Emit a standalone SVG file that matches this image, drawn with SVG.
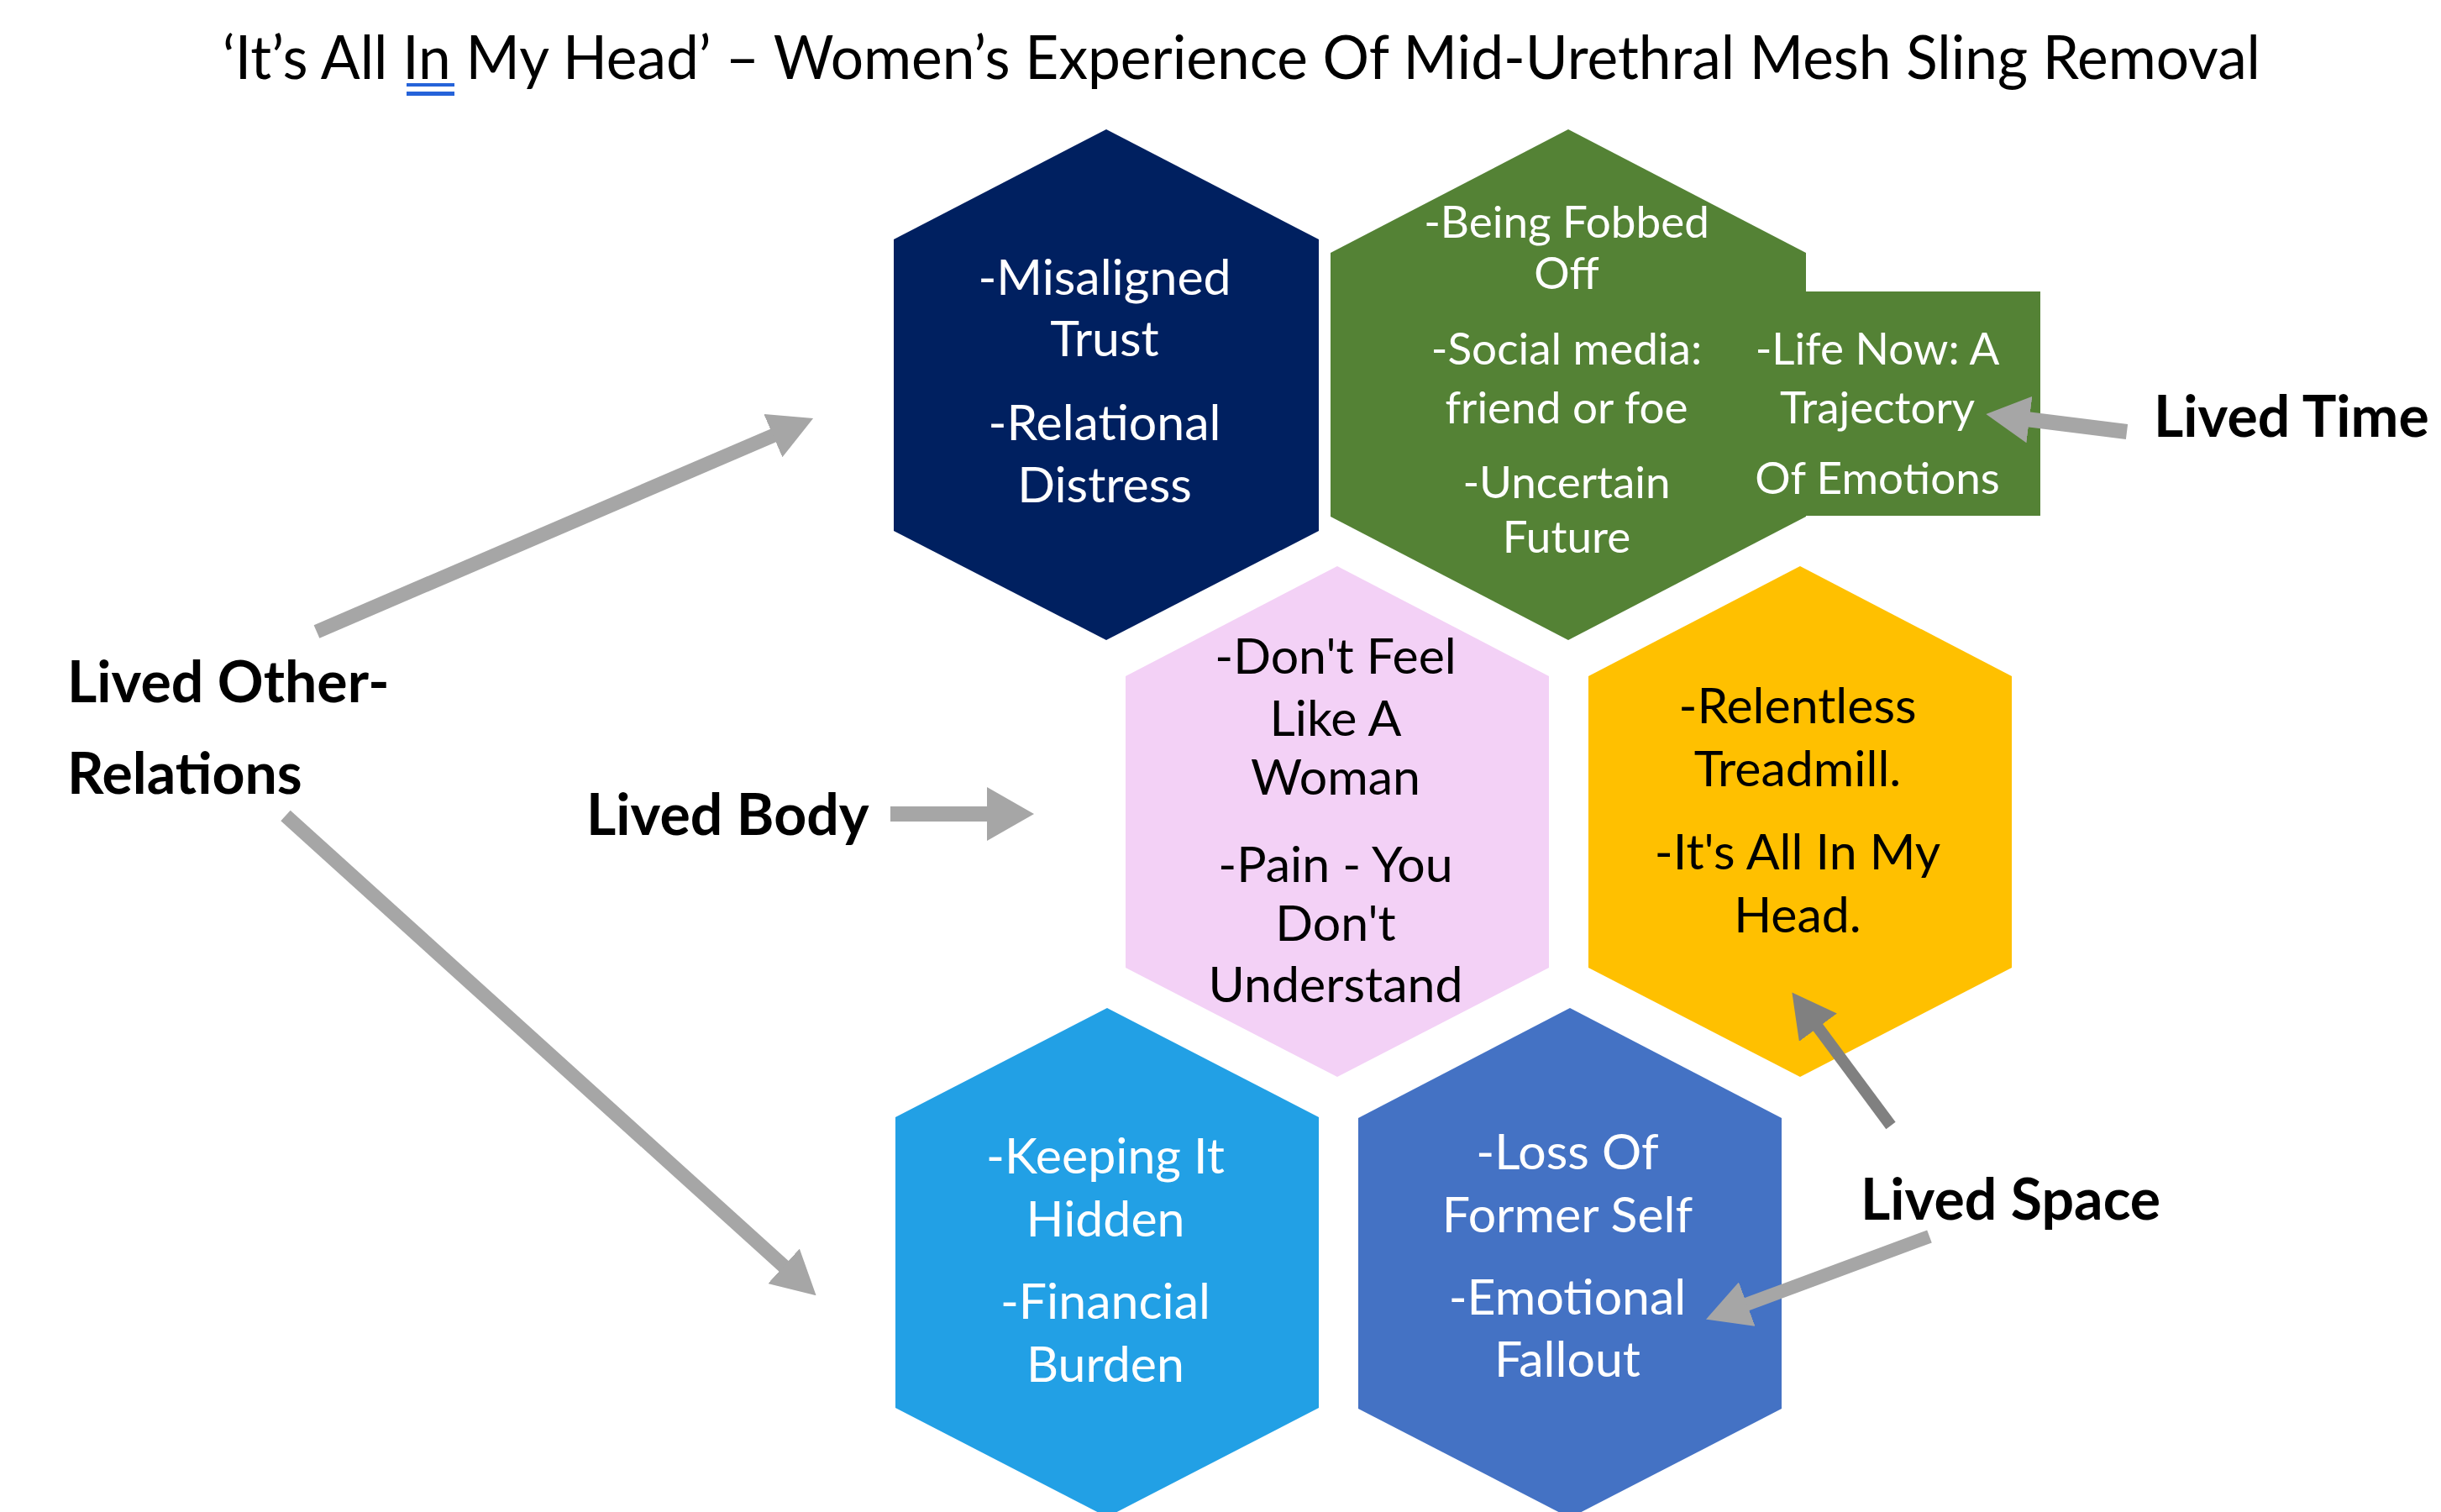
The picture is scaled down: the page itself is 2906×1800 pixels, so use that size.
<svg xmlns="http://www.w3.org/2000/svg" width="2906" height="1800" viewBox="0 0 2906 1800">
<style>
  text { font-family: "Lato", "Liberation Sans", sans-serif; text-anchor: middle; }
  .t60 { font-size: 59px; }
  .t52 { font-size: 53px; }
  .wh { fill: #FFFFFF; }
  .bk { fill: #000000; }
  .lbl { font-weight: bold; font-size: 68px; fill: #000000; text-anchor: start; }
  .title { font-size: 72px; fill: #000000; text-anchor: middle; }
  .arr { stroke: #A6A6A6; fill: none; stroke-linecap: butt; }
  .arrd { stroke: #808080; fill: none; stroke-linecap: butt; }
</style>
<defs>
  <marker id="head" markerUnits="userSpaceOnUse" viewBox="0 0 52 56" refX="4" refY="28" markerWidth="52" markerHeight="56" orient="auto">
    <path d="M0,0 L52,28 L0,56 Z" fill="#A6A6A6"/>
  </marker>
  <marker id="headBig" markerUnits="userSpaceOnUse" viewBox="0 0 56 64" refX="4" refY="32" markerWidth="56" markerHeight="64" orient="auto">
    <path d="M0,0 L56,32 L0,64 Z" fill="#A6A6A6"/>
  </marker>
  <marker id="headDark" markerUnits="userSpaceOnUse" viewBox="0 0 52 56" refX="4" refY="28" markerWidth="52" markerHeight="56" orient="auto">
    <path d="M0,0 L52,28 L0,56 Z" fill="#808080"/>
  </marker>
</defs>
<rect width="2906" height="1800" fill="#FFFFFF"/>

<g id="title">
  <text class="title" x="1478" y="94" textLength="2426" lengthAdjust="spacingAndGlyphs">‘It’s All In My Head’ – Women’s Experience Of Mid-Urethral Mesh Sling Removal</text>
  <rect x="484" y="99" width="57" height="4" fill="#2563D9"/>
  <rect x="484" y="109" width="57" height="5" fill="#2563D9"/>
</g>

<g id="node-navy">
  <polygon points="1317,154 1570,285 1570,632 1317,762 1064,632 1064,285" fill="#002060"/>
  <text class="t60 wh" x="1315" y="351">-Misaligned</text>
  <text class="t60 wh" x="1315" y="424">Trust</text>
  <text class="t60 wh" x="1315" y="524">-Relational</text>
  <text class="t60 wh" x="1315" y="598">Distress</text>
</g>

<g id="node-green">
  <polygon points="1867,154 2150,301 2150,615 1867,762 1584,615 1584,301" fill="#548235"/>
  <rect x="2040" y="347" width="389" height="267" fill="#548235"/>
  <text class="t52 wh" x="1865" y="283">-Being Fobbed</text>
  <text class="t52 wh" x="1865" y="344">Off</text>
  <text class="t52 wh" x="1865" y="434">-Social media:</text>
  <text class="t52 wh" x="1865" y="504">friend or foe</text>
  <text class="t52 wh" x="1865" y="593">-Uncertain</text>
  <text class="t52 wh" x="1865" y="658">Future</text>
  <text class="t52 wh" x="2235" y="434">-Life Now: A</text>
  <text class="t52 wh" x="2235" y="504">Trajectory</text>
  <text class="t52 wh" x="2235" y="588">Of Emotions</text>
</g>

<g id="node-pink">
  <polygon points="1592,674 1844,805 1844,1152 1592,1282 1340,1152 1340,805" fill="#F3D1F6"/>
  <text class="t60 bk" x="1590" y="802">-Don't Feel</text>
  <text class="t60 bk" x="1590" y="876">Like A</text>
  <text class="t60 bk" x="1590" y="946">Woman</text>
  <text class="t60 bk" x="1590" y="1050">-Pain - You</text>
  <text class="t60 bk" x="1590" y="1120">Don't</text>
  <text class="t60 bk" x="1590" y="1193">Understand</text>
</g>

<g id="node-yellow">
  <polygon points="2143,674 2395,805 2395,1152 2143,1282 1891,1152 1891,805" fill="#FFC000"/>
  <text class="t60 bk" x="2140" y="861">-Relentless</text>
  <text class="t60 bk" x="2140" y="936">Treadmill.</text>
  <text class="t60 bk" x="2140" y="1035">-It's All In My</text>
  <text class="t60 bk" x="2140" y="1110">Head.</text>
</g>

<g id="node-lightblue">
  <polygon points="1318,1200 1570,1330 1570,1676 1318,1806 1066,1676 1066,1330" fill="#22A0E5"/>
  <text class="t60 wh" x="1316" y="1397">-Keeping It</text>
  <text class="t60 wh" x="1316" y="1472">Hidden</text>
  <text class="t60 wh" x="1316" y="1570">-Financial</text>
  <text class="t60 wh" x="1316" y="1645">Burden</text>
</g>

<g id="node-blue">
  <polygon points="1869,1200 2121,1331 2121,1677 1869,1807 1617,1677 1617,1331" fill="#4472C4"/>
  <text class="t60 wh" x="1866" y="1392">-Loss Of</text>
  <text class="t60 wh" x="1866" y="1467">Former Self</text>
  <text class="t60 wh" x="1866" y="1565">-Emotional</text>
  <text class="t60 wh" x="1866" y="1639">Fallout</text>
</g>

<g id="label-other">
  <text class="lbl" x="80" y="836">Lived Other-</text>
  <text class="lbl" x="80" y="945">Relations</text>
</g>
<g id="label-body">
  <text class="lbl" x="698" y="994">Lived Body</text>
</g>
<g id="label-time">
  <text class="lbl" x="2564" y="520">Lived Time</text>
</g>
<g id="label-space">
  <text class="lbl" x="2215" y="1452">Lived Space</text>
</g>

<g id="connectors">
  <line class="arr" x1="377" y1="752" x2="924" y2="517" stroke-width="17" marker-end="url(#head)"/>
  <line class="arr" x1="340" y1="971" x2="936" y2="1510" stroke-width="17" marker-end="url(#head)"/>
  <line class="arr" x1="1060" y1="969" x2="1179" y2="969" stroke-width="18" marker-end="url(#headBig)"/>
  <line class="arr" x1="2532" y1="514" x2="2412" y2="499" stroke-width="18" marker-end="url(#head)"/>
  <line class="arrd" x1="2251" y1="1340" x2="2162" y2="1220" stroke-width="14" marker-end="url(#headDark)"/>
  <line class="arr" x1="2297" y1="1472" x2="2076" y2="1554" stroke-width="16" marker-end="url(#head)"/>
</g>
</svg>
